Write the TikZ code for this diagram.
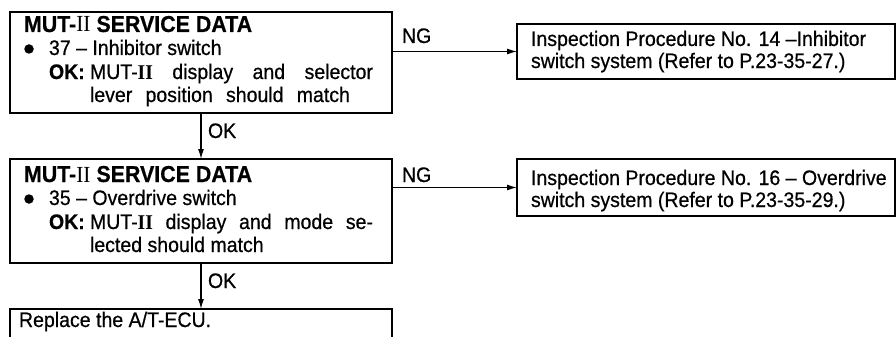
\documentclass[tikz,border=0pt]{standalone}
\usepackage{fontspec}
\setmainfont{Liberation Sans}[FakeStretch=0.93,FakeBold=0.6]
\newfontfamily\serifII{Liberation Serif}[FakeStretch=0.93]
\usetikzlibrary{arrows.meta}
\tikzset{
  box/.style={draw, line width=1.2pt, rectangle, inner sep=0pt, outer sep=0pt, anchor=north west},
  txt/.style={inner sep=0pt, outer sep=0pt, anchor=base west, font=\fontsize{21}{24}\selectfont},
  ttl/.style={inner sep=0pt, outer sep=0pt, anchor=base west, font=\fontsize{23}{26}\selectfont\bfseries},
  dot/.style={circle, fill, inner sep=0pt, minimum size=9.5pt},
  arr/.style={line width=1.1pt, -{Latex[length=10pt,width=6pt]}}
}
\begin{document}
\begin{tikzpicture}[x=1pt,y=-1pt]
\useasboundingbox (0,0) rectangle (896,337);
% boxes
\node[box, minimum width=382pt, minimum height=101pt] (b1) at (10,12) {};
\node[box, minimum width=382pt, minimum height=104pt] (b2) at (10,159) {};
\node[box, minimum width=378pt, minimum height=55pt] (b3) at (517,24) {};
\node[box, minimum width=378pt, minimum height=57pt] (b4) at (517,159) {};
\node[box, minimum width=382pt, minimum height=60pt] (b5) at (10,309) {};
% box 1 text
\node[ttl] (t1) at (24,32) {MUT-{\serifII\mdseries II} SERVICE DATA};
\node[dot] (d1) at (29,49) {};
\node[txt] (l1a) at (49,55) {37 -- Inhibitor switch};
\node[txt] (l1b) at (49,79) {\textbf{OK:}};
\node[txt] (l1c) at (90,79) {\hbox to 283pt{MUT-{\serifII\bfseries II}\hfill display\hfill and\hfill selector}};
\node[txt] (l1d) at (90,102) {\hbox to 260pt{lever\hfill position\hfill should\hfill match}};
% box 2 text
\node[ttl] (t2) at (24,182) {MUT-{\serifII\mdseries II} SERVICE DATA};
\node[dot] (d2) at (29,199) {};
\node[txt] (l2a) at (49,205) {35 -- Overdrive switch};
\node[txt] (l2b) at (49,229) {\textbf{OK:}};
\node[txt] (l2c) at (90,229) {\hbox to 283pt{MUT-{\serifII\bfseries II}\hfill display\hfill and\hfill mode\hfill se-}};
\node[txt] (l2d) at (90,252) {lected should match};
% box 3, 4, 5 text
\node[txt] (l3a) at (531,46) {Inspection Procedure No. 14 --Inhibitor};
\node[txt] (l3b) at (531,68) {switch system (Refer to P.23-35-27.)};
\node[txt] (l4a) at (531,185) {Inspection Procedure No. 16 -- Overdrive};
\node[txt] (l4b) at (531,207) {switch system (Refer to P.23-35-29.)};
\node[txt] (l5a) at (19,327) {Replace the A/T-ECU.};
% connectors
\draw[arr] (b1.east |- b3.west) -- (b3.west);
\draw[arr] (b2.east |- b4.west) -- (b4.west);
\coordinate (o1) at (201,0);
\draw[arr] (o1 |- b1.south) -- (o1 |- b2.north);
\draw[arr] (o1 |- b2.south) -- (o1 |- b5.north);
% labels
\node[txt] (ng1) at (402,43) {NG};
\node[txt] (ng2) at (402,182) {NG};
\node[txt] (ok1) at (208,138) {OK};
\node[txt] (ok2) at (208,288) {OK};
\end{tikzpicture}
\end{document}
